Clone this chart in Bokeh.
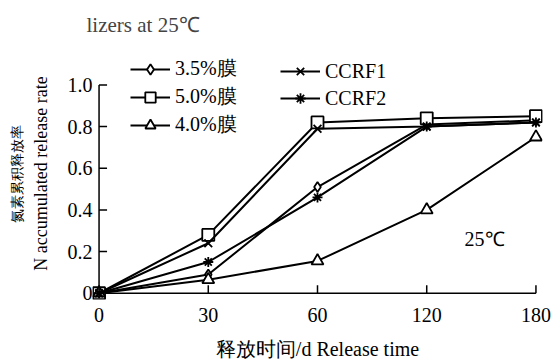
from bokeh.plotting import figure
from bokeh.models import (Range1d, FixedTicker, Legend, LegendItem, Label,
                          LinearAxis)
from bokeh.embed import file_html
from bokeh.resources import INLINE

# ---- data ----
times = ["0", "30", "60", "120", "180"]
names = ["3.5%膜", "5.0%膜", "4.0%膜", "CCRF1", "CCRF2"]
film_35 = [0, 0.09, 0.51, 0.81, 0.83]
film_50 = [0, 0.28, 0.82, 0.84, 0.85]
film_40 = [0, 0.065, 0.155, 0.40, 0.75]
ccrf1 = [0, 0.24, 0.79, 0.80, 0.82]
ccrf2 = [0, 0.15, 0.46, 0.80, 0.82]
y_ticks = [0, 0.2, 0.4, 0.6, 0.8, 1.0]
y_tick_labels = ["0", "0.2", "0.4", "0.6", "0.8", "1.0"]

FONT = "'Liberation Serif', serif"
FS = "20px"

W, H = 551, 362
LEFT, RIGHT, TOP, BOTTOM = 92, 9, 47, 63
X0, X1 = -0.06, 4.06
Y0 = -0.03
TICK = 8  # px
frame_w = W - LEFT - RIGHT
frame_h = H - TOP - BOTTOM
Y1 = Y0 + frame_h / 208.3

xs = list(range(len(times)))

p = figure(width=W, height=H, output_backend="svg", toolbar_location=None,
           x_range=Range1d(X0, X1), y_range=Range1d(Y0, Y1),
           min_border_left=LEFT, min_border_right=RIGHT, min_border_top=TOP,
           min_border_bottom=BOTTOM)
p.outline_line_color = None
p.grid.visible = False
p.background_fill_color = "white"

p.title.text = "lizers at 25℃"
p.title.text_font = FONT
p.title.text_font_size = "21px"
p.title.text_font_style = "normal"
p.title.align = "left"
p.title.offset = -6
p.title.standoff = 21

xa = p.xaxis[0]
ya = p.yaxis[0]
xa.ticker = FixedTicker(ticks=xs)
xa.major_label_overrides = {i: t for i, t in zip(xs, times)}
ya.ticker = FixedTicker(ticks=y_ticks)
ya.major_label_overrides = {v: t for v, t in zip(y_ticks, y_tick_labels)}

# second (outer) left axis only carries the Chinese part of the y label
ya_cn = LinearAxis(ticker=FixedTicker(ticks=[]), axis_label="氮素累积释放率")
p.add_layout(ya_cn, "left")

for ax in (xa, ya, ya_cn):
    ax.axis_line_color = None
    ax.major_tick_line_color = None
    ax.minor_tick_line_color = None
    ax.major_tick_in = 0
    ax.major_tick_out = 0
    ax.minor_tick_in = 0
    ax.minor_tick_out = 0
    ax.major_label_text_font = FONT
    ax.major_label_text_font_size = FS
    ax.major_label_text_color = "black"
    ax.axis_label_text_font = FONT
    ax.axis_label_text_font_size = FS
    ax.axis_label_text_font_style = "normal"
    ax.axis_label_text_color = "black"
ya.axis_label_text_font_size = "18px"
ya_cn.axis_label_text_font_size = "14px"
ya_cn.major_label_standoff = 0
xa.major_label_standoff = 8
ya.major_label_standoff = 0
xa.axis_label = "释放时间/d Release time"
ya.axis_label = "N accumulated release rate"
xa.axis_label_standoff = 13
ya.axis_label_standoff = 14
ya_cn.axis_label_standoff = 3

tdx = TICK * (X1 - X0) / frame_w
tdy = TICK * (Y1 - Y0) / frame_h
axis_kw = dict(line_color="black", line_width=1.5)
p.segment(x0=[xs[0], xs[0]], y0=[y_ticks[0], y_ticks[0]],
          x1=[xs[-1], xs[0]], y1=[y_ticks[0], y_ticks[-1]], **axis_kw)
p.segment(x0=[xs[0]] * len(y_ticks), y0=y_ticks,
          x1=[xs[0] + tdx] * len(y_ticks), y1=y_ticks, **axis_kw)
p.segment(x0=xs, y0=[y_ticks[0]] * len(xs),
          x1=xs, y1=[y_ticks[0] + tdy] * len(xs), **axis_kw)

series = [film_35, film_50, film_40, ccrf1, ccrf2]
markers = ["diamond", "square", "triangle", "x", "asterisk"]
sizes = [10, 12, 12, 11, 10]

items = []
for name, ys, mk, sz in zip(names, series, markers, sizes):
    lr = p.line(xs, ys, line_color="black", line_width=2)
    sr = p.scatter(xs, ys, marker=mk, size=sz, fill_color="white",
                   line_color="black", line_width=1.8)
    items.append(LegendItem(label=name, renderers=[lr, sr]))

def make_legend(its, loc):
    lg = Legend(items=its, location=loc, orientation="vertical")
    lg.label_text_font = FONT
    lg.label_text_font_size = FS
    lg.label_text_color = "black"
    lg.glyph_width = 40
    lg.glyph_height = 26
    lg.label_height = 26
    lg.label_standoff = 5
    lg.spacing = 1
    lg.padding = 0
    lg.margin = 0
    lg.border_line_color = None
    lg.background_fill_alpha = 0
    return lg

p.add_layout(make_legend(items[:3], (38, 161)))
p.add_layout(make_legend(items[3:], (188, 188)))

p.add_layout(Label(x=3.53, y=0.26, text="25℃", text_font=FONT,
                   text_font_size=FS, text_align="center",
                   text_baseline="middle", text_color="black"))

open("out.html", "w").write(file_html(p, INLINE))
